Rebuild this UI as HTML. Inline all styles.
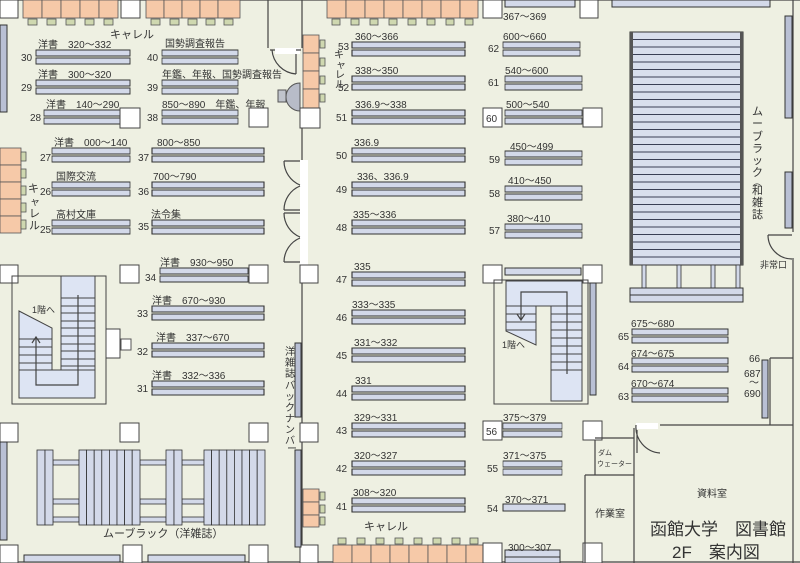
<!DOCTYPE html>
<html><head><meta charset="utf-8"><style>
html,body{margin:0;padding:0;background:#eef0e2}
svg{display:block}
text{font-family:"Liberation Sans","Noto Sans CJK JP",sans-serif;fill:#333}
.s{fill:#d3d9e9;stroke:#333;stroke-width:1}
.c{fill:#444}
.w{fill:#fff;stroke:#444;stroke-width:1}
.o{fill:#f6c9a8;stroke:#555;stroke-width:.8}
.ch{fill:#cfd8b0;stroke:#555;stroke-width:.8}
.l{stroke:#444;stroke-width:1.2;fill:none}
.st{fill:#dde4f3;stroke:#444;stroke-width:1}
.sl{fill:#d3d9e9;stroke:#333;stroke-width:.8}
</style></head><body>
<svg width="800" height="563" viewBox="0 0 800 563" xmlns="http://www.w3.org/2000/svg">
<rect width="800" height="563" fill="#eef0e2"/>
<defs>
<g id="p">
<rect class="s" x="0" y="0" width="100" height="6"/><rect class="s" x="0" y="8" width="100" height="6"/>
</g>
</defs>

<line class="l" x1="302" y1="0" x2="302" y2="48"/>
<line class="l" x1="268" y1="0" x2="268" y2="48"/>
<line class="l" x1="302" y1="128" x2="302" y2="160"/>
<line class="l" x1="302" y1="265" x2="302" y2="563"/>
<line class="l" x1="793" y1="0" x2="793" y2="232"/>
<line class="l" x1="793" y1="258" x2="793" y2="563"/>
<line class="l" x1="0" y1="0" x2="800" y2="0"/>
<line class="l" x1="0" y1="562" x2="800" y2="562"/>
<rect x="275" y="48" width="25" height="6" fill="#fff"/>
<path class="l" d="M270 50 h5 M296 50 h5 M272 50 A26 26 0 0 0 296 74 M296 54 V74"/>
<rect x="300" y="160" width="8" height="105" fill="#fff"/>
<path class="l" d="M300 161 h-16 M300 210 h-16 M300 213 h-16 M300 262 h-16 M284 161 A26 26 0 0 0 300 185 M284 210 A26 26 0 0 1 300 186 M284 213 A26 26 0 0 0 300 237 M284 262 A26 26 0 0 1 300 238"/>
<path d="M300 83 A14 14 0 0 0 300 111 Z" fill="#b8bcc8" stroke="#555"/>
<rect x="278" y="90" width="8" height="12" fill="#c0c4cc" stroke="#555"/>

<g>
<rect class="w" x="0" y="0" width="18" height="18"/><rect class="w" x="121" y="0" width="19" height="18"/>
<rect class="o" x="23" y="0" width="19" height="18"/><rect class="o" x="42" y="0" width="19" height="18"/><rect class="o" x="61" y="0" width="19" height="18"/><rect class="o" x="80" y="0" width="19" height="18"/><rect class="o" x="99" y="0" width="19" height="18"/>
<rect class="o" x="146" y="0" width="18" height="18"/><rect class="o" x="164" y="0" width="18" height="18"/><rect class="o" x="182" y="0" width="18" height="18"/><rect class="o" x="200" y="0" width="18" height="18"/><rect class="o" x="218" y="0" width="22" height="18"/>
<rect class="ch" x="28" y="19" width="9" height="6"/><rect class="ch" x="47" y="19" width="9" height="6"/><rect class="ch" x="66" y="19" width="9" height="6"/><rect class="ch" x="85" y="19" width="9" height="6"/><rect class="ch" x="104" y="19" width="9" height="6"/>
<rect class="ch" x="151" y="19" width="9" height="6"/><rect class="ch" x="170" y="19" width="9" height="6"/><rect class="ch" x="188" y="19" width="9" height="6"/><rect class="ch" x="206" y="19" width="9" height="6"/><rect class="ch" x="224" y="19" width="9" height="6"/>
</g>
<text x="110" y="38" font-size="11">キャレル</text>
<rect x="0" y="25" width="7" height="87" fill="#b9c0d4" stroke="#333"/>

<rect class="o" x="0" y="148" width="21" height="17"/><rect class="o" x="0" y="165" width="21" height="17"/><rect class="o" x="0" y="182" width="21" height="17"/><rect class="o" x="0" y="199" width="21" height="17"/><rect class="o" x="0" y="216" width="21" height="17"/>
<rect class="ch" x="21" y="152" width="5" height="9"/><rect class="ch" x="21" y="169" width="5" height="9"/><rect class="ch" x="21" y="186" width="5" height="9"/><rect class="ch" x="21" y="203" width="5" height="9"/><rect class="ch" x="21" y="220" width="5" height="9"/>
<text x="28" y="192" font-size="11">キ</text><text x="30" y="205" font-size="10">ャ</text><text x="29" y="217" font-size="11">レ</text><text x="29" y="229" font-size="11">ル</text>

<g font-size="10">
<text x="21" y="61">30</text><use href="#p" transform="translate(36,50) scale(0.94,1)"/><text x="38" y="48">洋書　320～332</text>
<text x="21" y="91">29</text><use href="#p" transform="translate(36,80) scale(0.94,1)"/><text x="38" y="78">洋書　300～320</text>
<text x="30" y="121">28</text><use href="#p" transform="translate(44,110) scale(0.76,1)"/><text x="46" y="108">洋書　140～290</text>
<rect class="w" x="120" y="108" width="20" height="20"/>
<text x="147" y="61">40</text><use href="#p" transform="translate(162,50) scale(0.76,1)"/><text x="165" y="47">国勢調査報告</text>
<text x="147" y="91">39</text><use href="#p" transform="translate(162,80) scale(0.76,1)"/><text x="162" y="78">年鑑、年報、国勢調査報告</text>
<text x="147" y="121">38</text><use href="#p" transform="translate(162,110) scale(0.76,1)"/><text x="162" y="108">850～890　年鑑、年報</text>
<rect class="w" x="249" y="108" width="19" height="19"/>
<text x="40" y="161">27</text><use href="#p" transform="translate(52,148) scale(0.78,1)"/><text x="54" y="146">洋書　000～140</text>
<text x="138" y="161">37</text><use href="#p" transform="translate(152,148) scale(1.12,1)"/><text x="157" y="146">800～850</text>
<text x="40" y="195">26</text><use href="#p" transform="translate(52,182) scale(0.78,1)"/><text x="56" y="180">国際交流</text>
<text x="138" y="195">36</text><use href="#p" transform="translate(152,182) scale(1.12,1)"/><text x="153" y="180">700～790</text>
<text x="40" y="233">25</text><use href="#p" transform="translate(52,220) scale(0.78,1)"/><text x="56" y="218">高村文庫</text>
<text x="138" y="230">35</text><use href="#p" transform="translate(152,220) scale(1.12,1)"/><text x="151" y="218">法令集</text>
<text x="145" y="281">34</text><use href="#p" transform="translate(160,268) scale(0.88,1)"/><text x="160" y="266">洋書　930～950</text>
<text x="137" y="317">33</text><use href="#p" transform="translate(152,306) scale(1.12,1)"/><text x="152" y="304">洋書　670～930</text>
<text x="137" y="355">32</text><use href="#p" transform="translate(152,343) scale(1.12,1)"/><text x="156" y="341">洋書　337～670</text>
<text x="137" y="392">31</text><use href="#p" transform="translate(152,381) scale(1.12,1)"/><text x="152" y="379">洋書　332～336</text>
</g>
<rect class="w" x="0" y="265" width="18" height="18"/><rect class="w" x="120" y="265" width="19" height="18"/><rect class="w" x="249" y="265" width="19" height="18"/>
<rect class="w" x="300" y="265" width="18" height="18"/>

<rect x="12" y="276" width="94" height="128" fill="none" stroke="#444"/>
<rect class="st" x="61" y="276" width="34" height="122"/>
<rect class="st" x="19" y="370" width="76" height="28"/>
<polygon class="st" points="19,311 52,328 52,370 19,370"/>
<g stroke="#444" stroke-width="1">
<line x1="61" y1="298" x2="95" y2="298"/><line x1="61" y1="306" x2="95" y2="306"/><line x1="61" y1="313" x2="95" y2="313"/><line x1="61" y1="321" x2="95" y2="321"/><line x1="61" y1="328" x2="95" y2="328"/><line x1="61" y1="336" x2="95" y2="336"/><line x1="61" y1="344" x2="95" y2="344"/><line x1="61" y1="351" x2="95" y2="351"/><line x1="61" y1="359" x2="95" y2="359"/><line x1="61" y1="366" x2="95" y2="366"/>
<line x1="19" y1="339" x2="52" y2="339"/><line x1="19" y1="347" x2="52" y2="347"/><line x1="19" y1="355" x2="52" y2="355"/><line x1="19" y1="363" x2="52" y2="363"/><line x1="19" y1="370" x2="95" y2="370"/>
</g>
<path class="l" d="M78 295 V385 H36 V337 M32 343 L36 337 L40 343" stroke-width="1"/>
<text x="32" y="313" font-size="9">1階へ</text>
<rect class="w" x="106" y="329" width="14" height="29"/><rect x="121" y="339" width="10" height="11" fill="#fff" stroke="#555"/>

<rect class="w" x="0" y="423" width="18" height="19"/><rect class="w" x="120" y="423" width="19" height="19"/><rect class="w" x="249" y="423" width="19" height="19"/><rect class="w" x="300" y="423" width="18" height="19"/>
<rect x="0" y="442" width="7" height="98" fill="#b9c0d4" stroke="#333"/>

<g>
<rect class="sl" x="53" y="460" width="26" height="5"/><rect class="sl" x="53" y="499" width="26" height="5"/><rect class="sl" x="53" y="517" width="26" height="5"/>
<rect class="sl" x="140" y="460" width="26" height="5"/><rect class="sl" x="140" y="499" width="26" height="5"/><rect class="sl" x="140" y="517" width="26" height="5"/>
<rect class="sl" x="182" y="460" width="22" height="5"/><rect class="sl" x="182" y="499" width="22" height="5"/><rect class="sl" x="182" y="517" width="22" height="5"/>
<rect class="sl" x="37" y="450" width="8" height="75"/><rect class="sl" x="45" y="450" width="8" height="75"/>
<rect class="sl" x="166" y="450" width="8" height="75"/><rect class="sl" x="174" y="450" width="8" height="75"/>
<rect class="sl" x="79" y="450" width="7.6" height="75"/><rect class="sl" x="86.6" y="450" width="7.6" height="75"/><rect class="sl" x="94.2" y="450" width="7.6" height="75"/><rect class="sl" x="101.8" y="450" width="7.6" height="75"/><rect class="sl" x="109.4" y="450" width="7.6" height="75"/><rect class="sl" x="117" y="450" width="7.6" height="75"/><rect class="sl" x="124.6" y="450" width="7.6" height="75"/><rect class="sl" x="132.2" y="450" width="7.8" height="75"/>
<rect class="sl" x="204" y="450" width="7.6" height="75"/><rect class="sl" x="211.6" y="450" width="7.6" height="75"/><rect class="sl" x="219.2" y="450" width="7.6" height="75"/><rect class="sl" x="226.8" y="450" width="7.6" height="75"/><rect class="sl" x="234.4" y="450" width="7.6" height="75"/><rect class="sl" x="242" y="450" width="7.6" height="75"/><rect class="sl" x="249.6" y="450" width="7.6" height="75"/><rect class="sl" x="257.2" y="450" width="7.8" height="75"/>
</g>
<text x="103" y="537" font-size="11">ムーブラック（洋雑誌）</text>
<rect class="w" x="0" y="545" width="18" height="18"/><rect class="w" x="123" y="545" width="19" height="18"/><rect class="w" x="249" y="545" width="19" height="18"/><rect class="w" x="300" y="545" width="18" height="18"/>
<rect class="s" x="24" y="555" width="96" height="7"/><rect class="s" x="148" y="555" width="97" height="7"/>

<rect x="295" y="343" width="6" height="74" fill="#b9c0d4" stroke="#333"/>
<rect x="295" y="450" width="6" height="97" fill="#b9c0d4" stroke="#333"/>
<g font-size="10" fill="#333"><text x="285" y="355">洋</text><text x="285" y="366">雑</text><text x="285" y="377">誌</text><text x="285" y="389">バ</text><text x="285" y="400">ッ</text><text x="285" y="411">ク</text><text x="285" y="422">ナ</text><text x="285" y="433">ン</text><text x="285" y="444">バ</text><text x="287" y="452">ー</text></g>

<rect class="o" x="303" y="35" width="16" height="18"/><rect class="o" x="303" y="53" width="16" height="18"/><rect class="o" x="303" y="71" width="16" height="18"/><rect class="o" x="303" y="89" width="16" height="19"/>
<rect class="ch" x="320" y="40" width="5" height="8"/><rect class="ch" x="320" y="58" width="5" height="8"/><rect class="ch" x="320" y="76" width="5" height="8"/><rect class="ch" x="320" y="94" width="5" height="8"/>
<rect class="w" x="300" y="108" width="20" height="20"/>
<g font-size="10"><text x="334" y="58">キ</text><text x="336" y="68">ャ</text><text x="335" y="78">レ</text><text x="335" y="88">ル</text></g>
<rect class="o" x="303" y="489" width="16" height="13"/><rect class="o" x="303" y="502" width="16" height="13"/><rect class="o" x="303" y="515" width="16" height="12"/>
<rect class="ch" x="320" y="492" width="5" height="8"/><rect class="ch" x="320" y="505" width="5" height="8"/><rect class="ch" x="320" y="517" width="5" height="8"/>

<rect class="o" x="327" y="0" width="19" height="18"/><rect class="o" x="346" y="0" width="19" height="18"/><rect class="o" x="365" y="0" width="19" height="18"/><rect class="o" x="384" y="0" width="19" height="18"/><rect class="o" x="403" y="0" width="19" height="18"/><rect class="o" x="422" y="0" width="19" height="18"/><rect class="o" x="441" y="0" width="19" height="18"/><rect class="o" x="460" y="0" width="18" height="18"/>
<g class="ch"><rect x="332" y="19" width="8" height="6"/><rect x="351" y="19" width="8" height="6"/><rect x="370" y="19" width="8" height="6"/><rect x="389" y="19" width="8" height="6"/><rect x="408" y="19" width="8" height="6"/><rect x="427" y="19" width="8" height="6"/><rect x="446" y="19" width="8" height="6"/><rect x="465" y="19" width="8" height="6"/></g>
<rect class="w" x="483" y="0" width="19" height="18"/>
<rect class="s" x="505" y="0" width="70" height="7"/><text x="503" y="20" font-size="10">367～369</text>
<rect class="w" x="580" y="0" width="18" height="18"/>
<rect class="s" x="612" y="0" width="158" height="7"/>

<g font-size="10">
<text x="338" y="50">53</text><use href="#p" transform="translate(352,42) scale(1.13,1)"/><text x="355" y="40">360～366</text>
<text x="338" y="91">52</text><use href="#p" transform="translate(352,76) scale(1.13,1)"/><text x="355" y="74">338～350</text>
<text x="336" y="121">51</text><use href="#p" transform="translate(352,110) scale(1.13,1)"/><text x="355" y="108">336.9～338</text>
<text x="336" y="159">50</text><use href="#p" transform="translate(352,148) scale(1.13,1)"/><text x="354" y="146">336.9</text>
<text x="336" y="193">49</text><use href="#p" transform="translate(352,182) scale(1.13,1)"/><text x="357" y="180">336、336.9</text>
<text x="336" y="231">48</text><use href="#p" transform="translate(352,220) scale(1.13,1)"/><text x="353" y="218">335～336</text>
<text x="336" y="283">47</text><use href="#p" transform="translate(352,272) scale(1.13,1)"/><text x="354" y="270">335</text>
<text x="336" y="321">46</text><use href="#p" transform="translate(352,310) scale(1.13,1)"/><text x="352" y="308">333～335</text>
<text x="336" y="359">45</text><use href="#p" transform="translate(352,348) scale(1.13,1)"/><text x="354" y="346">331～332</text>
<text x="336" y="397">44</text><use href="#p" transform="translate(352,386) scale(1.13,1)"/><text x="355" y="384">331</text>
<text x="336" y="434">43</text><use href="#p" transform="translate(352,423) scale(1.13,1)"/><text x="354" y="421">329～331</text>
<text x="336" y="472">42</text><use href="#p" transform="translate(352,461) scale(1.13,1)"/><text x="354" y="459">320～327</text>
<text x="336" y="510">41</text><use href="#p" transform="translate(352,498) scale(1.13,1)"/><text x="353" y="496">308～320</text>
</g>
<text x="364" y="530" font-size="11">キャレル</text>
<g><rect class="o" x="333" y="545" width="19" height="18"/><rect class="o" x="352" y="545" width="19" height="18"/><rect class="o" x="371" y="545" width="19" height="18"/><rect class="o" x="390" y="545" width="19" height="18"/><rect class="o" x="409" y="545" width="19" height="18"/><rect class="o" x="428" y="545" width="19" height="18"/><rect class="o" x="447" y="545" width="19" height="18"/><rect class="o" x="466" y="545" width="17" height="18"/></g>
<g class="ch"><rect x="338" y="538" width="8" height="6"/><rect x="357" y="538" width="8" height="6"/><rect x="376" y="538" width="8" height="6"/><rect x="395" y="538" width="8" height="6"/><rect x="414" y="538" width="8" height="6"/><rect x="433" y="538" width="8" height="6"/><rect x="452" y="538" width="8" height="6"/><rect x="470" y="538" width="8" height="6"/></g>
<rect class="w" x="483" y="543" width="19" height="20"/>
<rect class="s" x="505" y="550" width="55" height="7"/><rect class="s" x="505" y="557" width="55" height="6"/><text x="508" y="551" font-size="10">300～307</text>
<rect class="w" x="583" y="543" width="19" height="20"/>

<g font-size="10">
<text x="488" y="52">62</text><use href="#p" transform="translate(503,42) scale(0.77,1)"/><text x="503" y="40">600～660</text>
<text x="488" y="86">61</text><use href="#p" transform="translate(505,76) scale(0.77,1)"/><text x="505" y="74">540～600</text>
<rect class="w" x="483" y="108" width="19" height="19"/><text x="486" y="122">60</text><use href="#p" transform="translate(505,110) scale(0.77,1)"/><text x="506" y="108">500～540</text>
<rect class="w" x="583" y="108" width="19" height="19"/>
<text x="489" y="163">59</text><use href="#p" transform="translate(505,151) scale(0.77,1)"/><text x="510" y="150">450～499</text>
<text x="489" y="197">58</text><use href="#p" transform="translate(505,186) scale(0.77,1)"/><text x="508" y="184">410～450</text>
<text x="489" y="234">57</text><use href="#p" transform="translate(505,224) scale(0.77,1)"/><text x="507" y="222">380～410</text>
<rect class="w" x="483" y="421" width="19" height="19"/><text x="486" y="435">56</text><use href="#p" transform="translate(503,423) scale(0.59,1)"/><text x="503" y="421">375～379</text>
<text x="487" y="472">55</text><use href="#p" transform="translate(503,461) scale(0.59,1)"/><text x="503" y="459">371～375</text>
<text x="487" y="512">54</text><rect class="s" x="503" y="504" width="62" height="7"/><text x="505" y="503">370～371</text>
</g>
<rect class="w" x="583" y="421" width="19" height="19"/>

<rect class="w" x="483" y="265" width="19" height="18"/><rect class="w" x="583" y="265" width="19" height="18"/>
<rect class="s" x="505" y="268" width="76" height="7"/>
<rect x="494" y="280" width="94" height="124" fill="none" stroke="#444"/>
<rect class="st" x="506" y="281" width="76" height="25"/>
<rect class="st" x="551" y="306" width="31" height="95"/>
<polygon class="st" points="506,306 536,306 536,345 506,331"/>
<g stroke="#444"><line x1="506" y1="306" x2="582" y2="306"/><line x1="506" y1="314" x2="536" y2="314"/><line x1="506" y1="322" x2="536" y2="322"/><line x1="506" y1="330" x2="536" y2="330"/>
<line x1="551" y1="314" x2="582" y2="314"/><line x1="551" y1="322" x2="582" y2="322"/><line x1="551" y1="330" x2="582" y2="330"/><line x1="551" y1="338" x2="582" y2="338"/><line x1="551" y1="346" x2="582" y2="346"/><line x1="551" y1="354" x2="582" y2="354"/><line x1="551" y1="362" x2="582" y2="362"/><line x1="551" y1="370" x2="582" y2="370"/></g>
<path class="l" d="M567 374 V292 H521 V320 M517 314 L521 320 L525 314" stroke-width="1"/>
<text x="502" y="348" font-size="9">1階へ</text>
<rect x="590" y="283" width="6" height="112" fill="#b9c0d4" stroke="#333"/>

<rect x="630" y="32" width="113" height="233" fill="#d8deec" stroke="#333"/>
<g stroke="#3a3f55" stroke-width="0.9">
<line x1="630" y1="39.5" x2="743" y2="39.5"/><line x1="630" y1="47" x2="743" y2="47"/><line x1="630" y1="54.5" x2="743" y2="54.5"/><line x1="630" y1="62" x2="743" y2="62"/><line x1="630" y1="69.5" x2="743" y2="69.5"/><line x1="630" y1="77" x2="743" y2="77"/><line x1="630" y1="84.5" x2="743" y2="84.5"/><line x1="630" y1="92" x2="743" y2="92"/><line x1="630" y1="99.5" x2="743" y2="99.5"/><line x1="630" y1="107" x2="743" y2="107"/><line x1="630" y1="114.5" x2="743" y2="114.5"/><line x1="630" y1="122" x2="743" y2="122"/><line x1="630" y1="129.5" x2="743" y2="129.5"/><line x1="630" y1="137" x2="743" y2="137"/><line x1="630" y1="144.5" x2="743" y2="144.5"/><line x1="630" y1="152" x2="743" y2="152"/><line x1="630" y1="159.5" x2="743" y2="159.5"/><line x1="630" y1="167" x2="743" y2="167"/><line x1="630" y1="174.5" x2="743" y2="174.5"/><line x1="630" y1="182" x2="743" y2="182"/><line x1="630" y1="189.5" x2="743" y2="189.5"/><line x1="630" y1="197" x2="743" y2="197"/><line x1="630" y1="204.5" x2="743" y2="204.5"/><line x1="630" y1="212" x2="743" y2="212"/><line x1="630" y1="219.5" x2="743" y2="219.5"/><line x1="630" y1="227" x2="743" y2="227"/><line x1="630" y1="234.5" x2="743" y2="234.5"/><line x1="630" y1="242" x2="743" y2="242"/><line x1="630" y1="249.5" x2="743" y2="249.5"/><line x1="630" y1="257" x2="743" y2="257"/>
</g>
<rect x="630" y="32" width="3" height="233" fill="#555"/><rect x="740" y="32" width="3" height="233" fill="#555"/>
<g class="sl"><rect x="642" y="265" width="4" height="23"/><rect x="677" y="265" width="4" height="23"/><rect x="711" y="265" width="4" height="23"/><rect x="736" y="265" width="4" height="23"/></g>
<rect class="s" x="630" y="288" width="113" height="7"/><rect class="s" x="630" y="295" width="113" height="7"/>
<g font-size="11"><text x="752" y="115">ム</text><text x="752" y="127">ー</text><text x="752" y="140">ブ</text><text x="752" y="152">ラ</text><text x="752" y="164">ッ</text><text x="752" y="176">ク</text><text x="753" y="185" font-size="8">︵</text><text x="752" y="194">和</text><text x="752" y="206">雑</text><text x="752" y="218">誌</text></g>
<rect x="785" y="16" width="7" height="102" fill="#b9c0d4" stroke="#333"/>
<rect x="785" y="172" width="7" height="56" fill="#b9c0d4" stroke="#333"/>
<path class="l" d="M768 235 H792 M768 235 A24 24 0 0 0 792 259" stroke-width="1"/>
<text x="760" y="268" font-size="9">非常口</text>

<g font-size="10">
<text x="618" y="340">65</text><use href="#p" transform="translate(632,329) scale(0.96,1)"/><text x="631" y="327">675～680</text>
<text x="618" y="370">64</text><use href="#p" transform="translate(632,358) scale(0.96,1)"/><text x="631" y="357">674～675</text>
<text x="618" y="400">63</text><use href="#p" transform="translate(632,388) scale(0.96,1)"/><text x="631" y="387">670～674</text>
<text x="749" y="362">66</text><text x="744" y="377">687</text><text x="749" y="386">～</text><text x="744" y="397">690</text>
</g>
<path class="l" d="M770 358 H793 M770 358 V425" stroke-width="1"/>
<rect x="762" y="360" width="6" height="58" fill="#b9c0d4" stroke="#333"/>

<path class="l" d="M595 440 V475 M595 438 H634 M585 475 H634 M585 475 V563 M634 428 V563 M660 425 H793" stroke-width="1"/>
<rect x="636" y="423" width="22" height="6" fill="#fff"/>
<path class="l" d="M636 425 A26 26 0 0 0 660 453 M637 430 V453" stroke-width="1"/>
<text x="598" y="455" font-size="7">ダム</text><text x="597" y="466" font-size="7">ウェーター</text>
<text x="595" y="517" font-size="10">作業室</text>
<text x="697" y="497" font-size="10">資料室</text>
<text x="650" y="535" font-size="17">函館大学　図書館</text>
<text x="672" y="558" font-size="17">2F　案内図</text>
</svg>
</body></html>
